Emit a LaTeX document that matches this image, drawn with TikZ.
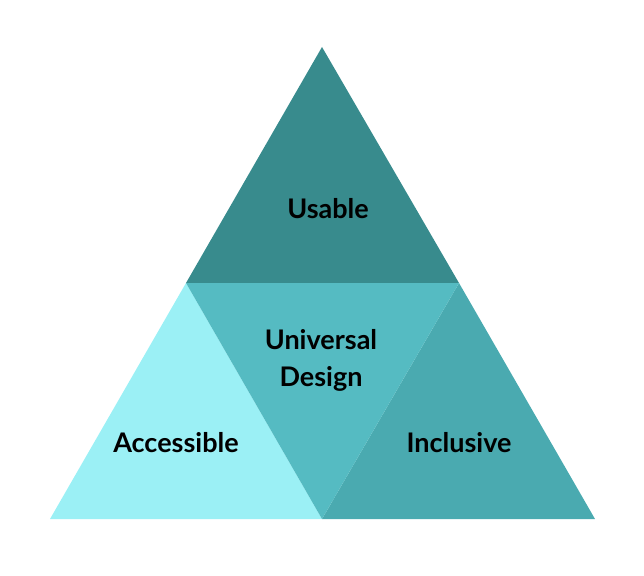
\documentclass[tikz,border=0pt]{standalone}
\usepackage{fontspec}
\setmainfont{Lato}
\usepackage{tikz}
\usetikzlibrary{positioning,calc}
\definecolor{usablecol}{HTML}{388B8D}
\definecolor{accesscol}{HTML}{9BF0F5}
\definecolor{centrecol}{HTML}{55BBC2}
\definecolor{inclcol}{HTML}{4AAAB0}

\begin{document}
\begin{tikzpicture}[x=1pt, y=-1pt,
    label/.style={font=\fontsize{27}{37}\selectfont\bfseries, text=black, align=center, inner sep=0pt}]
      \useasboundingbox (0,0) rectangle (644,575);
      % --- corners and midpoints ---
      \coordinate (top)  at (322, 47);
      \coordinate (bl)   at (50, 519);
      \coordinate (br)   at (595, 519);
      \coordinate (ml)   at (186, 283);
      \coordinate (mr)   at (459, 283);
      \coordinate (mb)   at (322, 519);
      % four sub-triangles
      \fill[usablecol] (top) -- (mr) -- (ml) -- cycle;
      \fill[accesscol] (ml) -- (mb) -- (bl) -- cycle;
      \fill[inclcol]   (mr) -- (br) -- (mb) -- cycle;
      \fill[centrecol] (ml) -- (mr) -- (mb) -- cycle;
      % labels
      \node[label] (usable) at (328, 209) {Usable};
      \node[label] (ud)     at (321, 360) {Universal\\Design};
      \node[label] (acc)    at (176, 443) {Accessible};
      \node[label] (incl)   at (459, 443) {Inclusive};
\end{tikzpicture}
\end{document}
